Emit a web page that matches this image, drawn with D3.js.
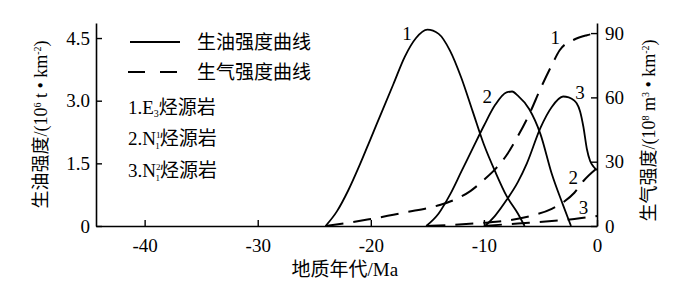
<!DOCTYPE html>
<html>
<head>
<meta charset="utf-8">
<script src="https://cdn.jsdelivr.net/npm/d3@7"></script>
<style>
  body { margin: 0; background: #fff; }
  text { font-family: "Liberation Serif", "Noto Sans CJK SC", serif; fill: #000; }
</style>
</head>
<body>
<svg id="chart" width="700" height="288"></svg>
<script>
// oil generation intensity (10^6 t/km2), [age Ma, value]
const oil1 = [[-24,0],[-23,0.35],[-22,0.85],[-21,1.45],[-20,2.1],[-19,2.75],[-18,3.4],[-17,4.05],[-16,4.5],[-15,4.7],[-14,4.6],[-13,4.2],[-12,3.55],[-11,2.75],[-10,1.95],[-9,1.3],[-8,0.72],[-7,0.3],[-6.4,0]]
const oil2 = [[-15.1,0],[-14,0.3],[-13,0.75],[-12,1.3],[-11,1.85],[-10,2.4],[-9,2.9],[-8,3.2],[-7.5,3.22],[-7,3.12],[-6,2.8],[-5,2.2],[-4,1.25],[-3,0.5],[-2.3,0]]
const oil3 = [[-9.9,0],[-9,0.25],[-8,0.62],[-7,1.05],[-6.2,1.5],[-5,2.35],[-4,2.85],[-3,3.1],[-2.5,3.08],[-2,3.0],[-1.8,2.94],[-1.5,2.75],[-1.2,2.37],[-0.9,1.85],[-0.6,1.55],[-0.3,1.42],[0,1.34]]
// gas generation intensity (10^8 m3/km2)
const gas1 = [[-24,0],[-22,1.5],[-20,3.3],[-18,5.2],[-16.8,6.5],[-15,8.3],[-13.9,9.8],[-12.5,12.5],[-11.2,16.3],[-10,21.5],[-9,26.5],[-8,33],[-7.2,40],[-6,52],[-5,64],[-4,75],[-3.3,82],[-2,87],[-0.9,89],[0,90]]
const gas2 = [[-15,0],[-13,0.5],[-10,1.5],[-8,2.5],[-5.7,4.9],[-4,8],[-3,11],[-2,15.5],[-1.2,21],[0,27]]
const gas3 = [[-10,0],[-8,0.8],[-6,1.5],[-4,2.3],[-2,3.3],[0,4.7]]

const xTicks = [-40, -30, -20, -10, 0]
const oilTicks = [0, 1.5, 3.0, 4.5]
const gasTicks = [0, 30, 60, 90]

// curve number labels: [label, age, value]
const oilLabels = [['1', -16.8, 4.62], ['2', -9.7, 3.1], ['3', -1.5, 3.2]]
const gasLabels = [['1', -3.7, 88], ['2', -2.1, 22.5], ['3', -1.2, 8.5]]

const legendRows = ['1.E', '2.N', '3.N']

const svg = d3.select('#chart')
const margin = { top: 23, right: 103, bottom: 62, left: 96 }
const width = 700, height = 288
const plotW = width - margin.left - margin.right
const plotH = height - margin.top - margin.bottom

const g = svg.append('g').attr('transform', `translate(${margin.left},${margin.top})`)

const x = d3.scaleLinear().domain([-44.3, 0]).range([0, plotW])
const yOil = d3.scaleLinear().domain([0, 4.86]).range([plotH, 0])
const yGas = d3.scaleLinear().domain([0, 94.7]).range([plotH, 0])

// axes (ticks point inward)
const xAxis = g.append('g')
    .attr('transform', `translate(0,${plotH})`)
    .call(d3.axisBottom(x).tickValues(xTicks).tickSize(-6).tickSizeOuter(0).tickPadding(13).tickFormat(d => String(d)))
const yAxisL = g.append('g')
    .call(d3.axisLeft(yOil).tickValues(oilTicks).tickSize(-6).tickSizeOuter(0).tickPadding(6)
        .tickFormat(d => d === 0 ? '0' : d3.format('.1f')(d)))
const yAxisR = g.append('g')
    .attr('transform', `translate(${plotW},0)`)
    .call(d3.axisRight(yGas).tickValues(gasTicks).tickSize(-6).tickSizeOuter(0).tickPadding(8))

;[xAxis, yAxisL, yAxisR].forEach(a => {
    a.select('.domain').attr('stroke', '#000').attr('stroke-width', 1.6)
    a.selectAll('.tick line').attr('stroke', '#000').attr('stroke-width', 1.4)
    a.selectAll('.tick text').style('font-size', '19px').attr('fill', '#000')
        .style('font-family', '"Liberation Serif", serif')
})

// curves
const oilLine = d3.line().x(d => x(d[0])).y(d => yOil(d[1])).curve(d3.curveMonotoneX)
const gasLine = d3.line().x(d => x(d[0])).y(d => yGas(d[1])).curve(d3.curveMonotoneX)

g.selectAll('.oil').data([oil1, oil2, oil3]).enter().append('path')
    .attr('d', oilLine).attr('fill', 'none').attr('stroke', '#000').attr('stroke-width', 1.8)
g.selectAll('.gas').data([gas1, gas2, gas3]).enter().append('path')
    .attr('d', gasLine).attr('fill', 'none').attr('stroke', '#000').attr('stroke-width', 2)
    .attr('stroke-dasharray', '18,10')

// curve labels
g.selectAll('.oil-lab').data(oilLabels).enter().append('text')
    .attr('x', d => x(d[1])).attr('y', d => yOil(d[2]))
    .attr('text-anchor', 'middle').attr('dy', '0.35em')
    .style('font-size', '19px').text(d => d[0])
g.selectAll('.gas-lab').data(gasLabels).enter().append('text')
    .attr('x', d => x(d[1])).attr('y', d => yGas(d[2]))
    .attr('text-anchor', 'middle').attr('dy', '0.35em')
    .style('font-size', '19px').text(d => d[0])

// legend
const lg = svg.append('g').attr('transform', 'translate(128,42)')
lg.append('line').attr('x1', 2).attr('x2', 52).attr('y1', 0).attr('y2', 0)
    .attr('stroke', '#000').attr('stroke-width', 2)
lg.append('line').attr('x1', 0).attr('x2', 52).attr('y1', 30).attr('y2', 30)
    .attr('stroke', '#000').attr('stroke-width', 2).attr('stroke-dasharray', '17,15')
lg.append('text').attr('x', 69).attr('y', 0).attr('dy', '0.35em').style('font-size', '19px').text('生油强度曲线')
lg.append('text').attr('x', 69).attr('y', 30).attr('dy', '0.35em').style('font-size', '19px').text('生气强度曲线')

const rows = lg.selectAll('.row').data(legendRows).enter().append('text')
    .attr('x', 0).attr('y', (d, i) => 65 + i * 31.5).attr('dy', '0.35em')
    .style('font-size', '19px')
rows.append('tspan').text(d => d)
rows.each(function (d, i) {
    const t = d3.select(this)
    if (i === 0) {
        t.append('tspan').attr('dy', '3px').style('font-size', '10px').text('3')
        t.append('tspan').attr('dy', '-3px').text('烃源岩')
    } else {
        // superscript stacked over subscript 1
        t.append('tspan').attr('dy', '-7px').style('font-size', '9px').text(i === 1 ? '1' : '2')
        t.append('tspan').attr('dx', '-5px').attr('dy', '11px').style('font-size', '9px').text('1')
        t.append('tspan').attr('dy', '-4px').text('烃源岩')
    }
})

// y axis titles
const leftTitle = svg.append('text')
    .attr('transform', `translate(47,${margin.top + plotH / 2}) rotate(-90)`)
    .attr('text-anchor', 'middle').style('font-size', '18px')
leftTitle.append('tspan').text('生油强度/(10')
leftTitle.append('tspan').attr('dy', '-6px').style('font-size', '10px').text('6')
leftTitle.append('tspan').attr('dy', '6px').text(' t • km')
leftTitle.append('tspan').attr('dy', '-6px').style('font-size', '10px').text('-2')
leftTitle.append('tspan').attr('dy', '6px').text(')')

const rightTitle = svg.append('text')
    .attr('transform', `translate(655,${margin.top + plotH / 2 + 6}) rotate(-90)`)
    .attr('text-anchor', 'middle').style('font-size', '18px')
rightTitle.append('tspan').text('生气强度/(10')
rightTitle.append('tspan').attr('dy', '-6px').style('font-size', '10px').text('8')
rightTitle.append('tspan').attr('dy', '6px').text(' m')
rightTitle.append('tspan').attr('dy', '-6px').style('font-size', '10px').text('3')
rightTitle.append('tspan').attr('dy', '6px').text(' • km')
rightTitle.append('tspan').attr('dy', '-6px').style('font-size', '10px').text('-2')
rightTitle.append('tspan').attr('dy', '6px').text(')')

// x axis title
svg.append('text')
    .attr('x', margin.left + x(-22.3)).attr('y', 276)
    .attr('text-anchor', 'middle').style('font-size', '19px')
    .text('地质年代/Ma')
</script>
</body>
</html>
